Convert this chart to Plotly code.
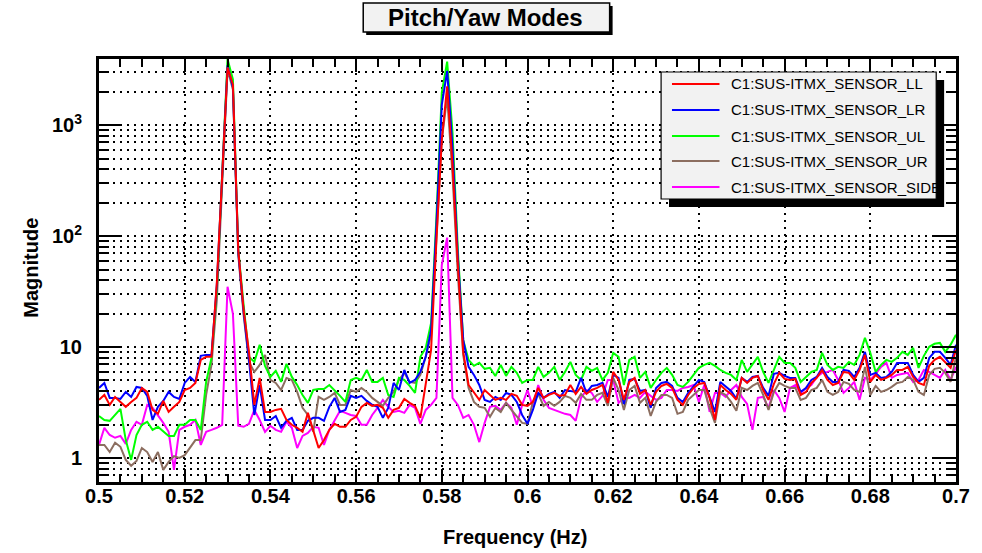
import plotly.graph_objects as go

# ---------------- data ----------------
freq_start = 0.5
freq_step = 0.00125
n_points = 161
freq = [round(freq_start + freq_step * i, 5) for i in range(n_points)]

series_names = ["C1:SUS-ITMX_SENSOR_LL", "C1:SUS-ITMX_SENSOR_LR", "C1:SUS-ITMX_SENSOR_UL",
                "C1:SUS-ITMX_SENSOR_UR", "C1:SUS-ITMX_SENSOR_SIDE"]
series_colors = ["#ff0000", "#0000ff", "#00ff00", "#8c6e60", "#ff00ff"]

mag_LL = [3.34, 3.70, 3.01, 3.55, 3.20, 2.89, 3.20, 3.48, 4.28, 3.94,
          2.71, 2.50, 3.27, 2.60, 2.89, 3.20, 4.10, 4.28, 4.75, 7.66,
          8.16, 8.16, 38, 358, 3320, 2330, 75, 21.7, 9.05, 3.01,
          5.27, 2.60, 2.60, 2.71, 2.77, 2.20, 1.99, 1.87, 1.72, 2.55,
          1.79, 1.23, 1.45, 1.79, 2.03, 1.91, 1.91, 2.20, 2.35, 2.89,
          3.14, 2.95, 3.01, 2.83, 2.30, 2.71, 2.83, 3.41, 3.14, 2.95,
          2.30, 4.55, 9.44, 92, 740, 2250, 441, 55, 9.05, 4.55,
          3.86, 3.34, 4.10, 3.70, 3.34, 3.48, 3.34, 3.78, 3.63, 3.01,
          2.95, 3.20, 4.28, 3.48, 3.70, 3.86, 3.63, 3.70, 4.55, 3.78,
          4.37, 3.78, 4.10, 4.28, 4.55, 3.14, 5.97, 5.05, 3.34, 4.85,
          5.27, 3.78, 4.10, 3.01, 3.94, 4.46, 4.65, 4.28, 3.34, 3.01,
          3.70, 4.28, 4.65, 4.75, 3.48, 2.20, 4.55, 4.10, 3.78, 3.34,
          5.27, 4.75, 5.27, 5.49, 4.10, 3.34, 4.65, 5.85, 5.16, 5.05,
          5.16, 3.70, 3.94, 4.75, 5.27, 6.22, 5.05, 4.55, 4.75, 5.97,
          5.85, 5.05, 6.22, 8.50, 4.85, 5.61, 5.05, 5.27, 5.61, 6.22,
          6.22, 6.63, 5.38, 4.75, 4.55, 6.77, 7.66, 8.16, 7.20, 6.49,
          9.44]

mag_LR = [4.28, 4.75, 3.48, 3.48, 3.41, 3.94, 3.55, 4.37, 4.28, 3.63,
          2.20, 2.89, 3.27, 3.94, 3.55, 3.41, 4.75, 5.38, 4.85, 8.33,
          8.50, 8.50, 36.5, 336, 3470, 2200, 72, 20.8, 7.66, 2.44,
          4.55, 2.20, 2.20, 2.39, 1.87, 2.16, 2.30, 1.79, 1.79, 2.16,
          2.30, 2.30, 2.16, 2.89, 3.48, 2.60, 2.71, 3.63, 3.48, 3.63,
          3.27, 3.01, 2.89, 2.30, 2.83, 4.75, 4.10, 6.22, 4.75, 5.05,
          5.97, 8.16, 14.3, 127, 1530, 3100, 625, 64, 11.6, 6.63,
          5.61, 4.55, 3.34, 3.20, 3.55, 3.34, 3.86, 3.70, 3.20, 2.44,
          2.03, 2.71, 3.86, 3.48, 3.78, 3.94, 3.48, 4.10, 4.02, 3.94,
          5.27, 3.86, 4.46, 4.55, 4.75, 3.55, 5.61, 5.27, 3.07, 5.05,
          5.16, 4.02, 4.10, 2.83, 4.28, 4.75, 4.85, 4.46, 3.48, 3.20,
          3.86, 4.46, 5.05, 4.85, 3.63, 2.60, 4.85, 4.37, 4.02, 3.41,
          5.27, 4.85, 5.38, 5.49, 4.28, 3.63, 5.73, 5.85, 5.49, 5.27,
          5.27, 3.94, 4.28, 5.05, 5.38, 6.49, 5.38, 4.85, 4.85, 6.22,
          6.10, 5.38, 6.49, 9.05, 5.61, 5.85, 5.27, 5.38, 5.97, 7.20,
          7.20, 7.20, 5.61, 4.85, 5.27, 7.99, 9.05, 9.05, 7.99, 6.91,
          10.5]

mag_UL = [2.39, 2.20, 2.16, 2.44, 2.77, 1.45, 0.96, 1.61, 1.99, 2.12,
          1.79, 1.91, 1.72, 1.58, 1.58, 1.99, 1.99, 2.20, 2.20, 1.79,
          4.85, 7.99, 32.9, 321, 3950, 2600, 75, 24, 8.16, 7.35,
          10.5, 6.77, 5.38, 6.10, 4.85, 7.05, 5.38, 4.55, 3.70, 3.14,
          4.10, 4.19, 4.19, 4.55, 4.10, 3.63, 3.20, 5.05, 5.27, 5.05,
          6.22, 4.85, 4.85, 5.27, 3.70, 3.55, 5.27, 5.05, 4.46, 3.86,
          8.16, 9.83, 16.5, 150, 1970, 3750, 860, 75, 11.6, 7.66,
          6.77, 7.20, 6.36, 6.49, 5.49, 6.91, 5.49, 6.63, 5.85, 4.75,
          5.05, 5.05, 6.63, 5.38, 5.85, 6.63, 5.05, 5.97, 7.35, 5.61,
          5.05, 6.63, 6.10, 6.49, 5.05, 5.85, 8.87, 8.16, 4.55, 7.66,
          8.16, 5.27, 5.97, 4.28, 5.05, 5.85, 6.49, 5.61, 4.55, 4.37,
          4.85, 5.61, 6.49, 6.91, 7.20, 6.77, 6.22, 5.85, 5.61, 5.05,
          7.66, 5.97, 6.91, 8.16, 5.97, 4.75, 6.22, 8.16, 7.20, 7.20,
          6.49, 4.85, 5.38, 5.97, 6.22, 8.87, 6.91, 6.22, 6.63, 6.49,
          7.35, 6.91, 8.50, 12.1, 8.87, 5.97, 6.91, 7.66, 7.35, 7.99,
          9.05, 8.50, 9.83, 6.49, 8.33, 10.05, 10.7, 10.9, 9.05, 10.5,
          12.9]

mag_UR = [1.31, 1.31, 1.13, 1.37, 1.26, 0.96, 0.85, 0.94, 1.23, 1.13,
          0.92, 1.13, 0.78, 0.92, 1.04, 1.00, 1.06, 1.23, 1.45, 1.45,
          3.70, 6.91, 26.7, 291, 3170, 2100, 68, 19.5, 7.35, 5.97,
          6.91, 8.50, 5.05, 4.75, 4.10, 5.27, 5.05, 3.94, 2.83, 2.44,
          1.72, 3.55, 3.34, 3.55, 3.86, 3.01, 3.01, 4.10, 3.94, 4.28,
          3.94, 3.48, 3.20, 2.95, 3.48, 3.94, 5.05, 5.85, 4.85, 4.75,
          5.61, 8.16, 12.9, 92, 740, 1800, 358, 45, 8.50, 4.28,
          3.20, 2.89, 2.83, 2.35, 2.83, 2.60, 3.14, 2.71, 2.35, 2.07,
          2.03, 3.20, 3.78, 2.95, 3.20, 2.95, 3.20, 3.63, 3.48, 3.14,
          3.78, 3.34, 3.34, 3.70, 3.86, 2.95, 5.27, 4.10, 2.71, 4.10,
          4.46, 3.14, 3.48, 2.39, 3.20, 3.70, 3.70, 3.48, 2.50, 2.60,
          3.34, 3.70, 4.10, 4.10, 2.83, 2.07, 3.94, 3.70, 3.20, 2.66,
          4.28, 4.10, 4.46, 4.75, 3.70, 2.71, 3.94, 4.75, 4.46, 4.28,
          4.28, 3.34, 3.48, 4.10, 4.28, 5.05, 3.94, 3.70, 3.94, 4.85,
          4.65, 4.10, 3.94, 6.63, 3.70, 4.46, 3.94, 4.10, 4.37, 4.75,
          4.85, 5.38, 5.05, 3.94, 3.70, 5.61, 6.36, 6.49, 5.85, 4.85,
          8.16]

mag_SIDE = [1.31, 1.87, 1.61, 1.52, 1.58, 1.34, 1.79, 2.12, 1.99, 3.01,
            2.83, 2.44, 2.07, 1.72, 0.78, 1.79, 1.91, 1.99, 2.20, 1.31,
            1.72, 1.79, 1.87, 1.99, 35, 19.9, 1.95, 1.91, 2.03, 2.71,
            2.20, 1.72, 1.95, 1.79, 1.72, 2.12, 1.87, 1.23, 1.58, 1.68,
            1.91, 1.87, 1.31, 1.79, 2.20, 2.66, 2.55, 2.44, 2.39, 1.99,
            1.99, 2.44, 2.83, 3.34, 2.89, 2.60, 2.66, 2.55, 3.01, 2.83,
            2.03, 2.71, 3.01, 3.48, 55, 97, 3.48, 3.01, 2.30, 2.44,
            1.99, 1.39, 2.07, 2.89, 2.95, 2.71, 3.14, 2.83, 1.99, 3.01,
            4.10, 2.89, 4.55, 3.34, 2.83, 2.71, 2.60, 2.50, 2.44, 2.16,
            3.48, 4.10, 3.86, 3.20, 3.63, 5.05, 5.05, 3.14, 3.48, 3.48,
            3.70, 3.48, 3.94, 3.63, 3.34, 3.48, 4.10, 4.10, 4.02, 4.28,
            4.37, 4.55, 3.20, 4.55, 2.60, 3.86, 3.86, 3.55, 4.10, 4.55,
            3.55, 3.07, 1.79, 3.48, 3.55, 2.83, 4.10, 3.48, 2.60, 4.28,
            4.55, 3.86, 4.28, 4.55, 5.38, 5.85, 5.97, 6.22, 5.05, 3.86,
            4.28, 4.85, 3.34, 5.27, 5.05, 5.73, 6.63, 7.20, 5.27, 5.61,
            5.73, 5.85, 4.85, 5.05, 6.22, 5.97, 5.61, 5.27, 6.22, 5.05,
            6.63]

x_tick_vals = [0.5, 0.52, 0.54, 0.56, 0.58, 0.6, 0.62, 0.64, 0.66, 0.68, 0.7]
x_tick_text = ["0.5", "0.52", "0.54", "0.56", "0.58", "0.6", "0.62", "0.64", "0.66", "0.68", "0.7"]
y_tick_vals = [1, 10, 100, 1000]
y_tick_text = ["1", "10", "10<sup>2</sup>", "10<sup>3</sup>"]
y_minor_vals = [0.7, 0.8, 0.9, 2, 3, 4, 5, 6, 7, 8, 9, 20, 30, 40, 50, 60, 70, 80, 90,
                200, 300, 400, 500, 600, 700, 800, 900, 2000, 3000]

title_text = "Pitch/Yaw Modes"
x_title = "Frequency (Hz)"
y_title = "Magnitude"

all_series = [mag_LL, mag_LR, mag_UL, mag_UR, mag_SIDE]

# ---------------- figure ----------------
W, H = 982, 553
L, R, T, B = 99, 965, 59, 482
FONT = "Liberation Sans, Arial, Helvetica, sans-serif"


def px(xp):
    return (xp - L) / (R - L)


def py(yp):
    return (B - yp) / (B - T)


fig = go.Figure()
for k in reversed(range(len(all_series))):
    fig.add_trace(go.Scatter(x=freq, y=all_series[k], mode="lines", name=series_names[k],
                             line=dict(color=series_colors[k], width=2), showlegend=False))

grid_common = dict(gridcolor="black", gridwidth=1.6, griddash="2px,5px")

fig.update_layout(
    width=W, height=H, autosize=False,
    margin=dict(l=L, r=W - R, t=T, b=H - B, pad=0),
    paper_bgcolor="white", plot_bgcolor="white",
    font=dict(family=FONT, color="black"),
    showlegend=False,
    xaxis=dict(range=[0.5, 0.7], tickvals=x_tick_vals, ticktext=x_tick_text,
               ticks="inside", ticklen=13, tickwidth=2, tickcolor="black",
               showline=True, linecolor="black", linewidth=3, mirror="allticks",
               showgrid=True, zeroline=False,
               tickfont=dict(family=FONT, size=20, weight="bold"),
               ticklabelstandoff=-6,
               minor=dict(dtick=0.005, ticks="inside", ticklen=8, tickwidth=2,
                          tickcolor="black", showgrid=False),
               **grid_common),
    yaxis=dict(type="log", range=[-0.217, 3.598], tickvals=y_tick_vals, ticktext=y_tick_text,
               ticks="inside", ticklen=22, tickwidth=2, tickcolor="black",
               showline=True, linecolor="black", linewidth=3, mirror="allticks",
               showgrid=True, zeroline=False,
               tickfont=dict(family=FONT, size=20, weight="bold"),
               ticklabelstandoff=10,
               minor=dict(tickmode="array", tickvals=y_minor_vals, ticks="inside", ticklen=10,
                          tickwidth=2, tickcolor="black", showgrid=True, **grid_common),
               **grid_common),
)

shapes = []
annotations = []

# title box with shadow
shapes.append(dict(type="rect", xref="paper", yref="paper", x0=px(369), x1=px(618),
                   y0=py(6), y1=py(35), fillcolor="black", line=dict(width=0), layer="above"))
shapes.append(dict(type="rect", xref="paper", yref="paper", x0=px(366), x1=px(615),
                   y0=py(3), y1=py(32), fillcolor="#f2f2f2", line=dict(color="black", width=1.5),
                   layer="above"))
annotations.append(dict(xref="paper", yref="paper", x=px(490), y=py(18), text=title_text,
                        showarrow=False, xanchor="center", yanchor="middle",
                        font=dict(family=FONT, size=24, weight="bold", color="black")))

# legend box with shadow
shapes.append(dict(type="rect", xref="paper", yref="paper", x0=px(675), x1=px(953),
                   y0=py(80), y1=py(207), fillcolor="black", line=dict(width=0), layer="above"))
shapes.append(dict(type="rect", xref="paper", yref="paper", x0=px(667), x1=px(945),
                   y0=py(72), y1=py(199), fillcolor="#f2f2f2", line=dict(color="black", width=1.2),
                   layer="above"))
row_y = [84, 110, 136, 161, 187]
for k, name in enumerate(series_names):
    shapes.append(dict(type="line", xref="paper", yref="paper", x0=px(678), x1=px(726),
                       y0=py(row_y[k]), y1=py(row_y[k]), line=dict(color=series_colors[k], width=2),
                       layer="above"))
    annotations.append(dict(xref="paper", yref="paper", x=px(736), y=py(row_y[k]), text=name,
                            showarrow=False, xanchor="left", yanchor="middle",
                            font=dict(family=FONT, size=15, color="black")))

# axis titles
annotations.append(dict(xref="paper", yref="paper", x=px(519), y=py(537), text=x_title,
                        showarrow=False, xanchor="center", yanchor="middle",
                        font=dict(family=FONT, size=20, weight="bold", color="black")))
annotations.append(dict(xref="paper", yref="paper", x=px(30), y=py(268), text=y_title,
                        showarrow=False, xanchor="center", yanchor="middle", textangle=-90,
                        font=dict(family=FONT, size=20, weight="bold", color="black")))

fig.update_layout(shapes=shapes, annotations=annotations)
fig.write_html("out.html",
               config={"displayModeBar": False, "responsive": False},
               post_script="document.body.style.margin='0px';document.body.style.overflow='hidden';")
